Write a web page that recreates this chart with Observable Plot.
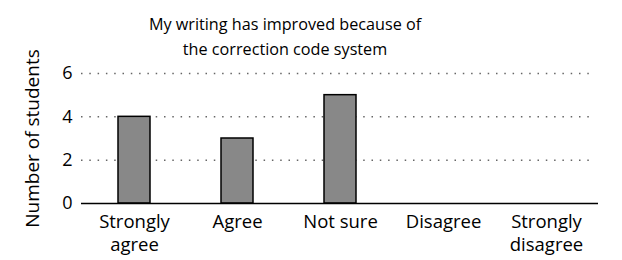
<!DOCTYPE html>
<html><head><meta charset="utf-8">
<script src="https://cdn.jsdelivr.net/npm/d3@7"></script>
<script src="https://cdn.jsdelivr.net/npm/@observablehq/plot@0.6"></script>
<style>body{margin:0;background:#fff;} svg{font-family:"Open Sans",sans-serif;}</style>
</head><body><div id="chart"></div>
<script>
const categories = ["Strongly agree", "Agree", "Not sure", "Disagree", "Strongly disagree"];
const counts = [4, 3, 5, 0, 0];
const tickLabels = {"Strongly agree": "Strongly\nagree", "Agree": "Agree", "Not sure": "Not sure", "Disagree": "Disagree", "Strongly disagree": "Strongly\ndisagree"};
const yTicks = [0, 2, 4, 6];
const titleLines = ["My writing has improved because of", "the correction code system"];
const yLabel = "Number of students";

const data = categories.map((c, i) => ({category: c, count: counts[i]}));

const chart = Plot.plot({
  width: 622, height: 260,
  marginTop: 73, marginBottom: 57, marginLeft: 81, marginRight: 24,
  style: {fontSize: "16px", fontFamily: "'Open Sans', sans-serif", color: "#000", background: "#fff"},
  x: {domain: categories, paddingInner: 0.69, paddingOuter: 0.345, label: null},
  y: {domain: [0, 6], ticks: yTicks, label: null},
  marks: [
    Plot.gridY(yTicks.filter(t => t > 0), {stroke: "#666", strokeOpacity: 1, strokeWidth: 1.5, strokeDasharray: "1.5,6.8", insetRight: 6}),
    Plot.barY(data, {x: "category", y: "count", fill: "#888", stroke: "#000", strokeWidth: 1.5}),
    Plot.axisY({ticks: yTicks, tickFormat: d3.format("d"), tickSize: 0, tickPadding: 9, fontSize: 18}),
    Plot.axisY({ticks: [], label: yLabel, labelAnchor: "center", labelArrow: "none", labelOffset: 56, fontSize: 19}),
    Plot.axisX({tickSize: 0, tickPadding: 8, tickFormat: d => tickLabels[d], lineHeight: 1.25, fontSize: 18.5}),
    Plot.ruleX([0], {frameAnchor: "left", stroke: "#000", strokeWidth: 1.5}),
    Plot.ruleY([0], {stroke: "#000", strokeWidth: 1.5}),
    Plot.text([titleLines.join("\n")], {frameAnchor: "top", dx: -55, dy: -61, lineAnchor: "top", lineHeight: 1.55, fontSize: 16.2})
  ]
});
document.getElementById("chart").append(chart);
</script></body></html>
